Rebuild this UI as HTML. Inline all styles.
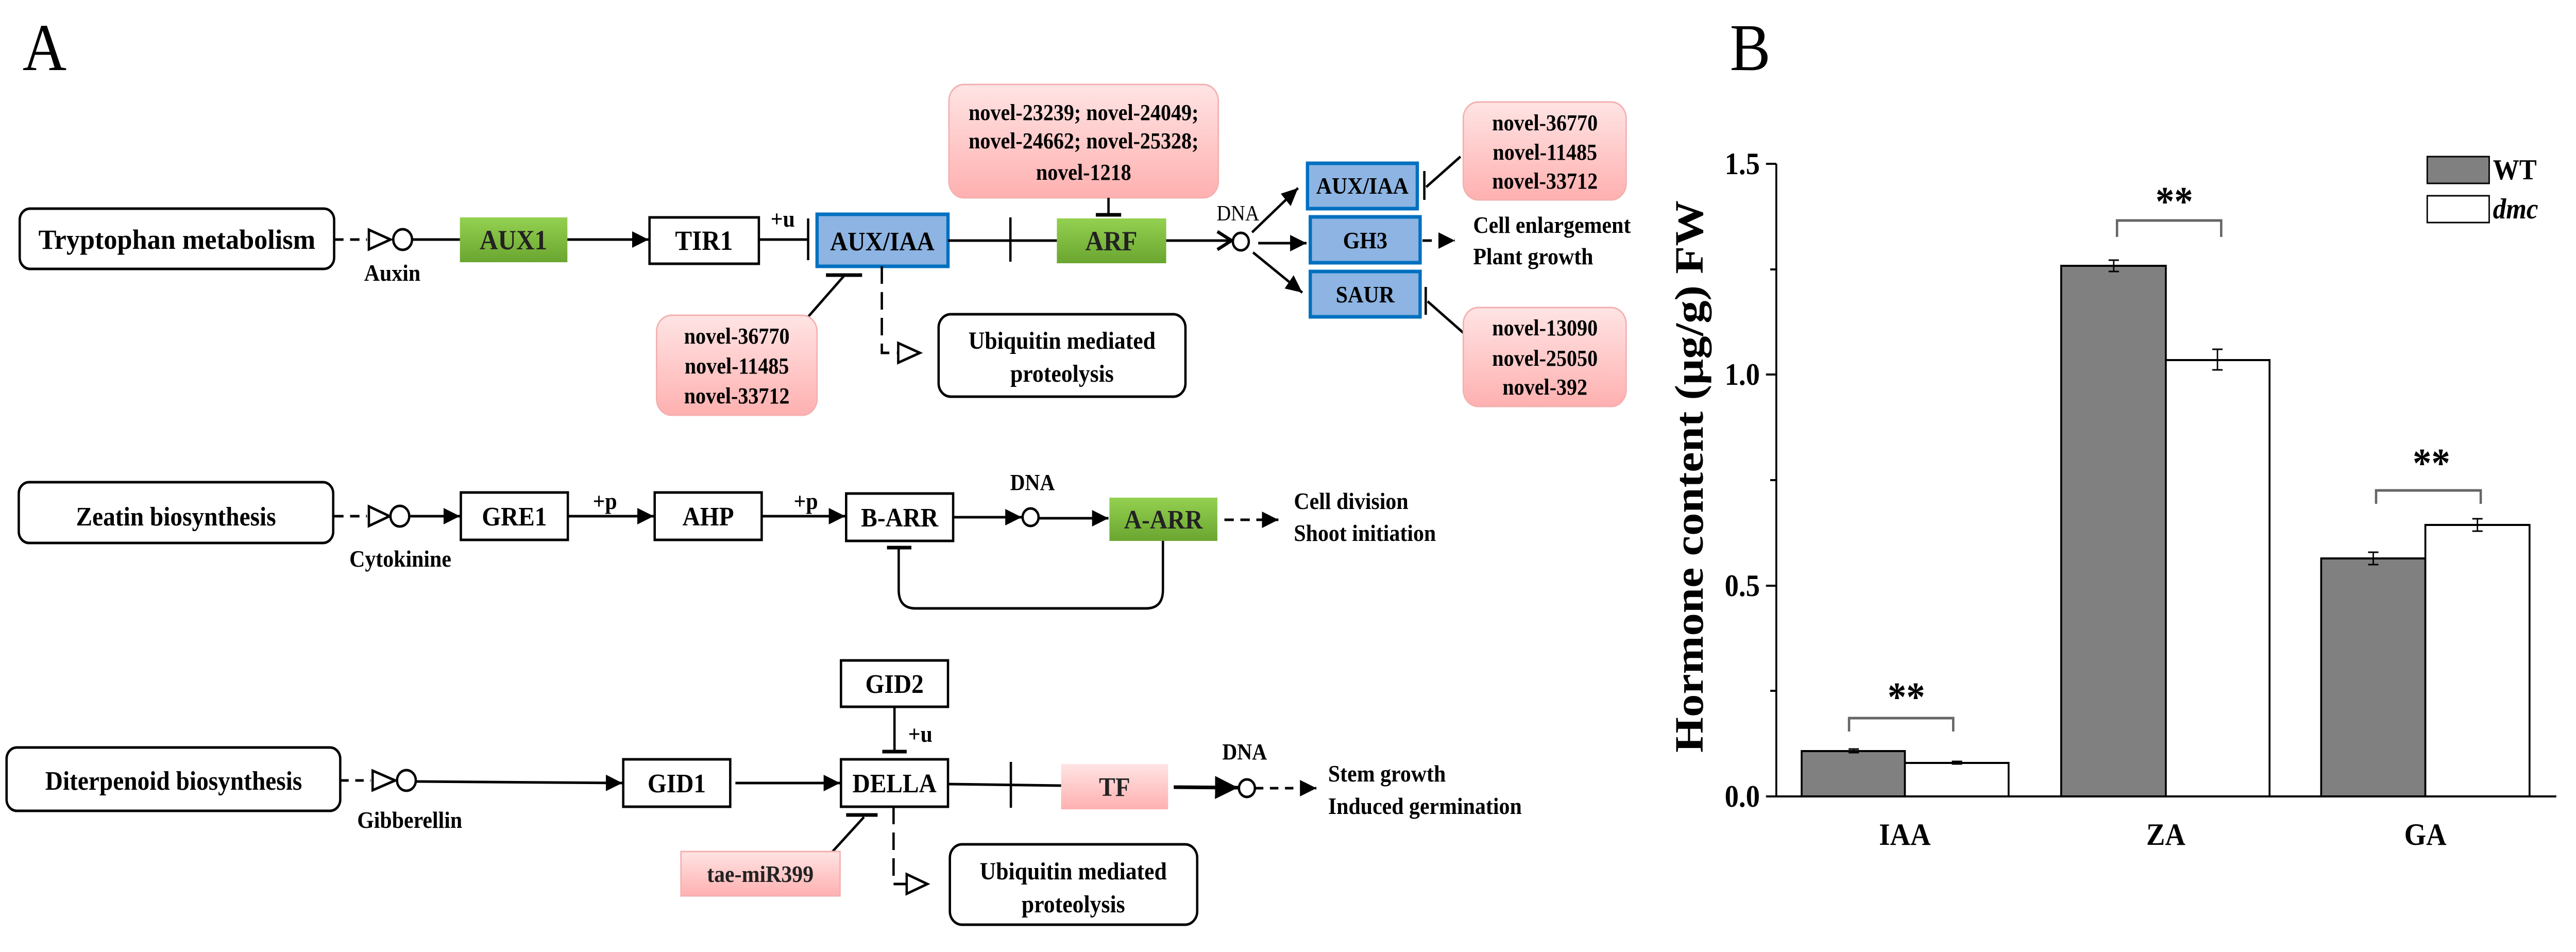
<!DOCTYPE html>
<html><head><meta charset="utf-8"><style>
html,body{margin:0;padding:0;background:#fff;width:100%;height:100%;overflow:hidden;}
svg{display:block;width:100vw;height:100vh;}
text{font-family:"Liberation Serif",serif;}
</style></head><body>
<svg viewBox="0 0 5489 1848" preserveAspectRatio="none" xmlns="http://www.w3.org/2000/svg">
<defs>
<linearGradient id="gr" x1="0" y1="0" x2="0" y2="1"><stop offset="0" stop-color="#94d050"/><stop offset="1" stop-color="#6aa630"/></linearGradient>
<linearGradient id="pk" x1="0" y1="0" x2="0" y2="1"><stop offset="0" stop-color="#ffe4e4"/><stop offset="1" stop-color="#ffb0b0"/></linearGradient>
<marker id="ar" markerWidth="8" markerHeight="8" refX="7" refY="4" orient="auto" markerUnits="strokeWidth"><path d="M0,0.8 L7,4 L0,7.2 z" fill="#000"/></marker>
<marker id="cv" markerWidth="8" markerHeight="8" refX="7" refY="4" orient="auto" markerUnits="strokeWidth"><path d="M1,0.5 L7,4 L1,7.5" fill="none" stroke="#000" stroke-width="1.3"/></marker>
</defs>
<rect width="5489" height="1848" fill="#fff"/>
<g font-family="Liberation Serif, serif">
<text x="48" y="136" font-size="130">A</text>
<text x="3686" y="136" font-size="130">B</text>
</g>

<g stroke="#000" stroke-width="5" fill="none">
<rect x="42" y="405" width="670" height="117" rx="22" fill="#fff"/>
<line x1="712" y1="465" x2="782" y2="465" stroke-dasharray="20,14"/>
<polygon points="786,446 786,484 832,465" fill="#fff"/>
<circle cx="858" cy="465" r="20" fill="#fff"/>
<line x1="878" y1="465" x2="980" y2="465"/>
<rect x="980" y="422" width="229" height="87" fill="url(#gr)" stroke="none"/>
<line x1="1209" y1="465" x2="1382" y2="465" marker-end="url(#ar)"/>
<rect x="1384" y="422" width="233" height="90" fill="#fff"/>
<line x1="1617" y1="465" x2="1722" y2="465"/>
<line x1="1722" y1="424" x2="1722" y2="505"/>
<rect x="1741" y="416" width="279" height="101" fill="#8db4e2" stroke="#0070c0" stroke-width="7"/>
<line x1="2020" y1="467" x2="2252" y2="467"/>
<line x1="2153" y1="422" x2="2153" y2="508"/>
<rect x="2252" y="424" width="233" height="87" fill="url(#gr)" stroke="none"/>
<rect x="2022" y="164" width="574" height="220" rx="32" fill="url(#pk)" stroke="#f4b0b0" stroke-width="3"/>
<line x1="2362" y1="384" x2="2362" y2="417"/>
<line x1="2335" y1="417" x2="2389" y2="417" stroke-width="7"/>
<line x1="2485" y1="467" x2="2624" y2="467" marker-end="url(#cv)"/>
<circle cx="2644" cy="469" r="17" fill="#fff"/>
<line x1="2668" y1="451" x2="2766" y2="365" marker-end="url(#ar)"/>
<line x1="2681" y1="472" x2="2784" y2="472" marker-end="url(#ar)"/>
<line x1="2670" y1="490" x2="2775" y2="568" marker-end="url(#ar)"/>
<rect x="2786" y="317" width="234" height="88" fill="#8db4e2" stroke="#0070c0" stroke-width="7"/>
<rect x="2792" y="421" width="234" height="89" fill="#8db4e2" stroke="#0070c0" stroke-width="7"/>
<rect x="2792" y="527" width="234" height="88" fill="#8db4e2" stroke="#0070c0" stroke-width="7"/>
<line x1="3035" y1="332" x2="3035" y2="388"/>
<line x1="3039" y1="363" x2="3112" y2="304"/>
<line x1="3038" y1="557" x2="3038" y2="611"/>
<line x1="3042" y1="585" x2="3118" y2="646"/>
<rect x="3118" y="198" width="347" height="190" rx="32" fill="url(#pk)" stroke="#f4b0b0" stroke-width="3"/>
<rect x="3118" y="597" width="347" height="192" rx="32" fill="url(#pk)" stroke="#f4b0b0" stroke-width="3"/>
<line x1="3031" y1="467" x2="3100" y2="467" stroke-dasharray="20,14" marker-end="url(#ar)"/>
<line x1="1760" y1="534" x2="1837" y2="534" stroke-width="7"/>
<line x1="1798" y1="536" x2="1722" y2="615"/>
<rect x="1399" y="612" width="342" height="194" rx="32" fill="url(#pk)" stroke="#f4b0b0" stroke-width="3"/>
<polyline points="1879,517 1879,685 1912,685" stroke-dasharray="34,16"/>
<polygon points="1914,666 1914,704 1960,685" fill="#fff"/>
<rect x="2000" y="610" width="526" height="160" rx="26" fill="#fff"/>

<rect x="40" y="936" width="670" height="118" rx="22" fill="#fff"/>
<line x1="712" y1="1002" x2="782" y2="1002" stroke-dasharray="20,14"/>
<polygon points="786,983 786,1021 830,1002" fill="#fff"/>
<circle cx="852" cy="1002" r="20" fill="#fff"/>
<line x1="872" y1="1002" x2="980" y2="1002" marker-end="url(#ar)"/>
<rect x="982" y="956" width="228" height="92" fill="#fff"/>
<line x1="1210" y1="1002" x2="1393" y2="1002" marker-end="url(#ar)"/>
<rect x="1395" y="956" width="228" height="92" fill="#fff"/>
<line x1="1623" y1="1002" x2="1801" y2="1002" marker-end="url(#ar)"/>
<rect x="1803" y="958" width="228" height="92" fill="#fff"/>
<line x1="2031" y1="1004" x2="2177" y2="1004" marker-end="url(#ar)"/>
<circle cx="2196" cy="1004" r="17" fill="#fff"/>
<line x1="2213" y1="1006" x2="2362" y2="1006" marker-end="url(#ar)"/>
<rect x="2364" y="966" width="230" height="84" fill="url(#gr)" stroke="none"/>
<line x1="2609" y1="1009" x2="2724" y2="1009" stroke-dasharray="20,14" marker-end="url(#ar)"/>
<path d="M2478,1050 L2478,1145 Q2478,1181 2442,1181 L1951,1181 Q1915,1181 1915,1145 L1915,1063"/>
<line x1="1890" y1="1063" x2="1942" y2="1063" stroke-width="7"/>

<rect x="14" y="1451" width="711" height="123" rx="22" fill="#fff"/>
<line x1="725" y1="1515" x2="790" y2="1515" stroke-dasharray="18,14"/>
<polygon points="794,1496 794,1534 842,1515" fill="#fff"/>
<circle cx="866" cy="1515" r="20" fill="#fff"/>
<line x1="886" y1="1517" x2="1326" y2="1520" marker-end="url(#ar)"/>
<rect x="1328" y="1474" width="228" height="92" fill="#fff"/>
<line x1="1567" y1="1520" x2="1790" y2="1520" marker-end="url(#ar)"/>
<rect x="1792" y="1474" width="228" height="92" fill="#fff"/>
<rect x="1792" y="1282" width="228" height="90" fill="#fff"/>
<line x1="1906" y1="1372" x2="1906" y2="1459"/>
<line x1="1880" y1="1459" x2="1932" y2="1459" stroke-width="7"/>
<line x1="2020" y1="1522" x2="2261" y2="1525"/>
<line x1="2154" y1="1479" x2="2154" y2="1568"/>
<rect x="2261" y="1483" width="228" height="88" fill="url(#pk)" stroke="none"/>
<line x1="2501" y1="1528" x2="2638" y2="1529" stroke-width="7" marker-end="url(#ar)"/>
<circle cx="2657" cy="1530" r="17" fill="#fff"/>
<line x1="2674" y1="1530" x2="2805" y2="1530" stroke-dasharray="18,14" marker-end="url(#ar)"/>
<line x1="1803" y1="1582" x2="1870" y2="1582" stroke-width="7"/>
<line x1="1841" y1="1586" x2="1774" y2="1653"/>
<rect x="1451" y="1653" width="339" height="86" fill="url(#pk)" stroke="#f4b0b0" stroke-width="3"/>
<polyline points="1904,1566 1904,1716 1930,1716" stroke-dasharray="34,16"/>
<polygon points="1932,1697 1932,1735 1976,1716" fill="#fff"/>
<rect x="2024" y="1639" width="527" height="156" rx="26" fill="#fff"/>
</g>

<g font-family="Liberation Serif, serif" font-weight="bold" fill="#000" text-anchor="middle">
<text x="377" y="483" font-size="54" textLength="590" lengthAdjust="spacingAndGlyphs">Tryptophan metabolism</text>
<text x="836" y="545" font-size="46">Auxin</text>
<text x="1094" y="484" font-size="54" fill="#222">AUX1</text>
<text x="1500" y="485" font-size="54">TIR1</text>
<text x="1668" y="440" font-size="46">+u</text>
<text x="1880" y="486" font-size="52">AUX/IAA</text>
<text x="2368" y="486" font-size="54" fill="#222">ARF</text>
<text x="2309" y="233" font-size="44">novel-23239; novel-24049;</text>
<text x="2309" y="288" font-size="44">novel-24662; novel-25328;</text>
<text x="2309" y="349" font-size="44">novel-1218</text>
<text x="2638" y="428" font-size="42" font-weight="normal">DNA</text>
<text x="2903" y="376" font-size="46">AUX/IAA</text>
<text x="2909" y="482" font-size="46">GH3</text>
<text x="2909" y="587" font-size="46">SAUR</text>
<text x="3292" y="253" font-size="44">novel-36770</text>
<text x="3292" y="310" font-size="44">novel-11485</text>
<text x="3292" y="366" font-size="44">novel-33712</text>
<text x="3292" y="651" font-size="44">novel-13090</text>
<text x="3292" y="710" font-size="44">novel-25050</text>
<text x="3292" y="766" font-size="44">novel-392</text>
<text x="1570" y="667" font-size="44">novel-36770</text>
<text x="1570" y="725" font-size="44">novel-11485</text>
<text x="1570" y="783" font-size="44">novel-33712</text>
<text x="2263" y="677" font-size="48">Ubiquitin mediated</text>
<text x="2263" y="741" font-size="48">proteolysis</text>
<text x="375" y="1020" font-size="52">Zeatin biosynthesis</text>
<text x="853" y="1100" font-size="46">Cytokinine</text>
<text x="1096" y="1020" font-size="52">GRE1</text>
<text x="1289" y="988" font-size="46">+p</text>
<text x="1509" y="1020" font-size="52">AHP</text>
<text x="1717" y="988" font-size="46">+p</text>
<text x="1917" y="1022" font-size="52">B-ARR</text>
<text x="2200" y="951" font-size="44">DNA</text>
<text x="2479" y="1026" font-size="52" fill="#222">A-ARR</text>
<text x="370" y="1533" font-size="52">Diterpenoid biosynthesis</text>
<text x="873" y="1607" font-size="46">Gibberellin</text>
<text x="1442" y="1538" font-size="52">GID1</text>
<text x="1906" y="1538" font-size="52">DELLA</text>
<text x="1906" y="1345" font-size="52">GID2</text>
<text x="1961" y="1440" font-size="46">+u</text>
<text x="2375" y="1545" font-size="52" fill="#222">TF</text>
<text x="2652" y="1474" font-size="44">DNA</text>
<text x="1620" y="1712" font-size="46" fill="#222">tae-miR399</text>
<text x="2287" y="1707" font-size="48">Ubiquitin mediated</text>
<text x="2287" y="1771" font-size="48">proteolysis</text>
</g>
<g font-family="Liberation Serif, serif" font-weight="bold" fill="#000" font-size="46">
<text x="3139" y="452">Cell enlargement</text>
<text x="3139" y="513">Plant growth</text>
<text x="2757" y="988">Cell division</text>
<text x="2757" y="1050">Shoot initiation</text>
<text x="2830" y="1517">Stem growth</text>
<text x="2830" y="1580">Induced germination</text>
</g>

<g stroke="#000" stroke-width="4" fill="none">
<line x1="3785" y1="318" x2="3785" y2="1546"/>
<line x1="3785" y1="1546" x2="5447" y2="1546"/>
<line x1="3763" y1="318" x2="3785" y2="318"/>
<line x1="3763" y1="727" x2="3785" y2="727"/>
<line x1="3763" y1="1137" x2="3785" y2="1137"/>
<line x1="3763" y1="1546" x2="3785" y2="1546"/>
<line x1="3772" y1="523" x2="3785" y2="523"/>
<line x1="3772" y1="932" x2="3785" y2="932"/>
<line x1="3772" y1="1341" x2="3785" y2="1341"/>
<rect x="3839" y="1458" width="220" height="88" fill="#808080"/>
<rect x="4059" y="1481" width="221" height="65" fill="#fff"/>
<rect x="4392" y="516" width="223" height="1030" fill="#808080"/>
<rect x="4615" y="699" width="221" height="847" fill="#fff"/>
<rect x="4946" y="1084" width="222" height="462" fill="#808080"/>
<rect x="5168" y="1019" width="222" height="527" fill="#fff"/>
<g stroke-width="3">
<path d="M3939,1454 h22 M3950,1454 v7 M3939,1461 h22"/>
<path d="M4159,1478 h22 M4159,1483 h22"/>
<path d="M4493,505 h22 M4504,505 v22 M4493,527 h22"/>
<path d="M4714,678 h22 M4725,678 v40 M4714,718 h22"/>
<path d="M5046,1072 h22 M5057,1072 v24 M5046,1096 h22"/>
<path d="M5268,1007 h22 M5279,1007 v24 M5268,1031 h22"/>
</g>
<g stroke="#666" stroke-width="5">
<path d="M3940,1420 V1394 H4162 V1420"/>
<path d="M4511,460 V428 H4733 V460"/>
<path d="M5063,978 V952 H5286 V978"/>
</g>
<rect x="5172" y="304" width="132" height="52" fill="#808080" stroke-width="3"/>
<rect x="5172" y="380" width="132" height="52" fill="#fff" stroke-width="3"/>
</g>
<g font-family="Liberation Serif, serif" font-weight="bold" fill="#000">
<text x="4062" y="1380" font-size="80" text-anchor="middle">**</text>
<text x="4633" y="418" font-size="80" text-anchor="middle">**</text>
<text x="5181" y="926" font-size="80" text-anchor="middle">**</text>
<g font-size="60" text-anchor="end">
<text x="3750" y="338">1.5</text>
<text x="3750" y="747">1.0</text>
<text x="3750" y="1157">0.5</text>
<text x="3750" y="1566">0.0</text>
</g>
<g font-size="60" text-anchor="middle">
<text x="4059" y="1640">IAA</text>
<text x="4615" y="1640">ZA</text>
<text x="5168" y="1640">GA</text>
</g>
<text x="5312" y="348" font-size="56">WT</text>
<text x="5312" y="424" font-size="56" font-style="italic">dmc</text>
<text transform="translate(3628,925) rotate(-90)" font-size="86" text-anchor="middle" textLength="1072" lengthAdjust="spacingAndGlyphs">Hormone content (μg/g) FW</text>
</g>
</svg>
</body></html>
